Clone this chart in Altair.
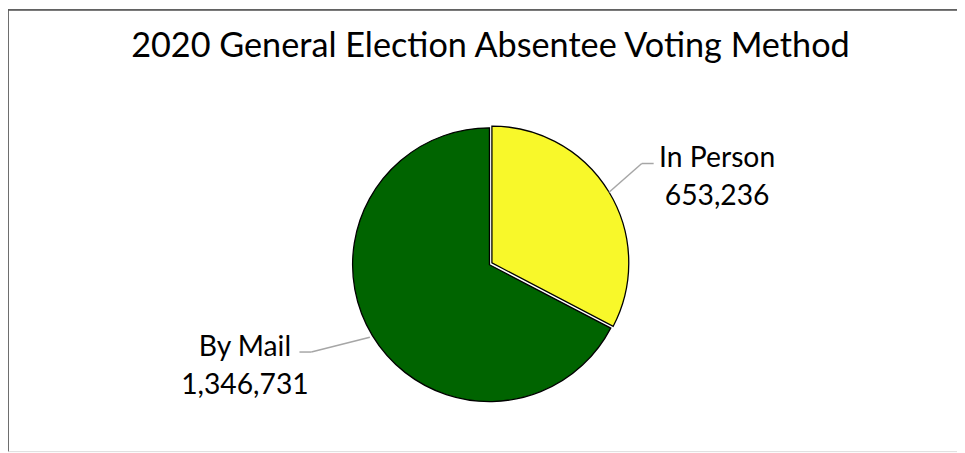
import altair as alt
import pandas as pd

methods = ["In Person", "By Mail"]
votes = [653236, 1346731]
order = [0, 1]
colors = ["#F8F82A", "#006400"]

df = pd.DataFrame({"method": methods, "votes": votes, "ord": order})

CX, CY, R = 485.5, 257, 138

base = alt.Chart(df)

theta = alt.Theta("votes:Q", stack=True)
ordr = alt.Order("ord:Q")

green = base.mark_arc(x=CX, y=CY, radius=R, strokeWidth=1.3).encode(
    theta=theta, order=ordr,
    fill=alt.condition("datum.method == 'By Mail'", alt.value(colors[1]), alt.value("transparent")),
    stroke=alt.condition("datum.method == 'By Mail'", alt.value("#000000"), alt.value("transparent")),
)
yellow = base.mark_arc(x=CX, y=CY, radius=R, strokeWidth=1.3, xOffset=2.5, yOffset=-1.8).encode(
    theta=theta, order=ordr,
    fill=alt.condition("datum.method == 'In Person'", alt.value(colors[0]), alt.value("transparent")),
    stroke=alt.condition("datum.method == 'In Person'", alt.value("#000000"), alt.value("transparent")),
)

geo = (
    base.transform_window(cum="sum(votes)", sort=[alt.SortField("ord")])
    .transform_joinaggregate(total="sum(votes)")
    .transform_calculate(
        mid="((datum.cum - datum.votes / 2) / datum.total) * 2 * PI",
        sx=f"{CX} + {R + 3} * sin(datum.mid)",
        sy=f"{CY} - {R + 3} * cos(datum.mid)",
        ex="datum.sx + (datum.method == 'In Person' ? 33 : -59)",
        ey="datum.sy + (datum.method == 'In Person' ? -29 : 15)",
        hx="datum.ex + (datum.method == 'In Person' ? 12 : -12)",
        label="[datum.method, format(datum.votes, ',')]",
    )
)

lead1 = geo.mark_rule(color="#A6A6A6", strokeWidth=1.5).encode(
    x=alt.X("sx:Q", scale=None), y=alt.Y("sy:Q", scale=None),
    x2="ex:Q", y2="ey:Q",
)
lead2 = geo.mark_rule(color="#A6A6A6", strokeWidth=1.5).encode(
    x=alt.X("ex:Q", scale=None), y=alt.Y("ey:Q", scale=None),
    x2="hx:Q", y2="ey:Q",
)

labels = geo.transform_calculate(
    lx="datum.hx + (datum.method == 'In Person' ? 64 : -55)",
    ly="datum.ey + (datum.method == 'In Person' ? -5 : -5)",
).mark_text(font="Lato", fontSize=28.5, lineHeight=38, color="#000000", baseline="middle", align="center").encode(
    x=alt.X("lx:Q", scale=None), y=alt.Y("ly:Q", scale=None), text="label:N",
)

frame_top = alt.Chart(df).mark_rule(color="#595959", strokeWidth=1.2).encode(
    x=alt.value(0), x2=alt.value(957), y=alt.value(0)
)
frame_left = alt.Chart(df).mark_rule(color="#595959", strokeWidth=1.2).encode(
    x=alt.value(0), y=alt.value(0), y2=alt.value(445)
)

chart = alt.layer(green, yellow, lead1, lead2, labels, frame_top, frame_left).properties(
    width=957, height=445,
    autosize=alt.AutoSizeParams(type="none"),
    padding=0,
    title=alt.TitleParams(
        "2020 General Election Absentee Voting Method",
        font="Lato", fontSize=34.5, fontWeight="normal", color="#000000",
        anchor="middle", baseline="middle", offset=0, dy=73, dx=8,
    ),
).configure_view(stroke=None).configure(background="white")

chart.save("out.html", embed_options={"renderer": "svg", "actions": False})
